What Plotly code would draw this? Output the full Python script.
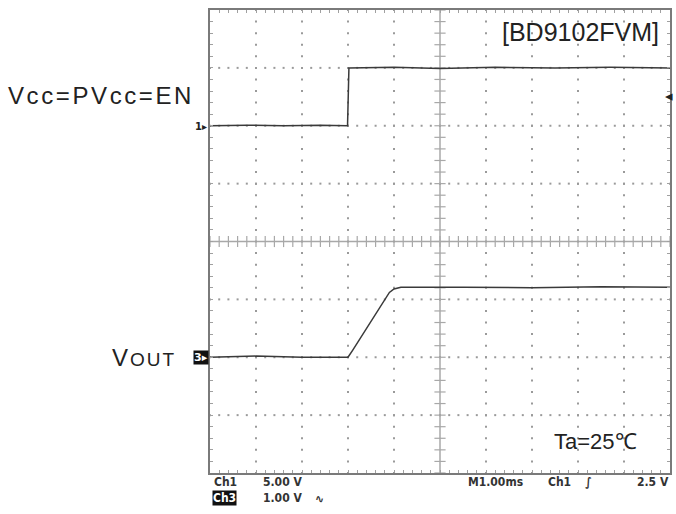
import numpy as np
import plotly.graph_objects as go

# ---------------- data (read from the scope screen) ----------------
# time in ms (1.00 ms/div, 10 divisions on screen)
vcc_t = [0.0, 0.8, 1.6, 2.4, 2.99, 3.0, 3.02, 4.0, 5.0, 6.2, 7.5, 8.7, 10.0]
vcc_v = [0.0, 0.05, 0.0, 0.05, 0.0, 2.5, 5.0, 5.05, 4.95, 5.05, 5.0, 5.05, 5.0]   # Ch1, 5.00 V/div

vout_t = [0.0, 1.0, 2.0, 2.98, 3.0, 3.1, 3.5, 3.9, 4.0, 4.15, 5.5, 7.0, 8.5, 10.0]
vout_v = [0.0, 0.02, 0.0, 0.0, 0.0, 0.12, 0.62, 1.12, 1.18, 1.21, 1.21, 1.2, 1.22, 1.21]  # Ch3, 1.00 V/div

ch1_label = "Vcc=PVcc=EN"
chip_label = "[BD9102FVM]"
temp_label = "Ta=25℃"

W, H = 676, 514
# target plot area in page pixels: x 210..672, y 10..473
L = 210
T = 10
R = W - 672
B = H - 473
PW, PH = W - L - R, H - T - B

def px(x):
    return (x - L) / PW

def py(y):
    return (H - B - y) / PH

grid_col = "#a8a8a8"
trace_col = "#3a3a3a"

fig = go.Figure()

# dotted graticule (decoration)
minor_x = np.round(np.arange(0, 10.001, 0.2), 3)
minor_y = np.round(np.arange(-4, 4.001, 0.2), 3)
gx, gy = [], []
for xm in [1, 2, 3, 4, 6, 7, 8, 9]:
    for ym in minor_y:
        gx.append(xm); gy.append(ym)
for ym in [-3, -2, -1, 1, 2, 3]:
    for xm in minor_x:
        gx.append(xm); gy.append(ym)
fig.add_trace(go.Scatter(x=gx, y=gy, mode="markers", hoverinfo="skip",
                         marker=dict(symbol="square", size=2, color="#9a9a9a"),
                         showlegend=False))

# center crosshair
fig.add_shape(type="line", x0=0, x1=10, y0=0, y1=0, xref="x", yref="y",
              line=dict(color=grid_col, width=1.5), layer="below")
fig.add_shape(type="line", x0=5, x1=5, y0=-4, y1=4, xref="x", yref="y",
              line=dict(color=grid_col, width=1.5), layer="below")
fig.add_trace(go.Scatter(x=list(minor_x), y=[0] * len(minor_x), mode="markers", hoverinfo="skip",
                         marker=dict(symbol="line-ns", size=8, line=dict(color=grid_col, width=1.2)),
                         showlegend=False))
fig.add_trace(go.Scatter(x=[5] * len(minor_y), y=list(minor_y), mode="markers", hoverinfo="skip",
                         marker=dict(symbol="line-ew", size=8, line=dict(color=grid_col, width=1.2)),
                         showlegend=False))

# signal traces
fig.add_trace(go.Scatter(x=vcc_t, y=vcc_v, mode="lines", yaxis="y2",
                         line=dict(color=trace_col, width=1.5), showlegend=False))
fig.add_trace(go.Scatter(x=vout_t, y=vout_v, mode="lines", yaxis="y3",
                         line=dict(color=trace_col, width=1.5), showlegend=False))

ax_common = dict(showgrid=False, zeroline=False, showline=True, mirror="ticks",
                 linecolor="#7a7a7a", linewidth=1.5, ticks="inside", ticklen=3,
                 tickcolor="#a0a0a0", tickwidth=1, showticklabels=False, fixedrange=True)

fig.update_layout(
    width=W, height=H,
    margin=dict(l=L, r=R, t=T, b=B),
    paper_bgcolor="white", plot_bgcolor="white",
    xaxis=dict(range=[0, 10], dtick=0.2, tick0=0, **ax_common),
    yaxis=dict(range=[-4, 4], dtick=0.2, tick0=0, **ax_common),
    yaxis2=dict(range=[-30, 10], overlaying="y", visible=False),
    yaxis3=dict(range=[-2, 6], overlaying="y", visible=False),
)

ann = []
big = dict(family="Liberation Sans, Arial", size=24, color="#222222")
ann.append(dict(text="<span style='letter-spacing:2.6px'>" + ch1_label + "</span>",
                x=px(196), y=py(96), xref="paper", yref="paper",
                xanchor="right", yanchor="middle", showarrow=False, font=big))
ann.append(dict(text="<span style='letter-spacing:2px'>V<span style='font-size:19px'>OUT</span></span>",
                x=px(178), y=py(357),
                xref="paper", yref="paper", xanchor="right", yanchor="middle",
                showarrow=False, font=dict(family="Liberation Sans, Arial", size=24, color="#222222")))
ann.append(dict(text=chip_label, x=px(663), y=py(32), xref="paper", yref="paper",
                xanchor="right", yanchor="middle", showarrow=False,
                font=dict(family="Liberation Sans, Arial", size=25, color="#222222")))
ann.append(dict(text=temp_label, x=px(641), y=py(441), xref="paper", yref="paper",
                xanchor="right", yanchor="middle", showarrow=False,
                font=dict(family="Liberation Sans, Arial", size=22, color="#222222")))
# channel markers
ann.append(dict(text="<b>1</b>▸", x=px(209), y=py(126), xref="paper", yref="paper",
                xanchor="right", yanchor="middle", showarrow=False,
                font=dict(family="DejaVu Sans", size=10, color="#222222")))
ann.append(dict(text="<b>3▸</b>", x=px(209), y=py(357), xref="paper", yref="paper",
                xanchor="right", yanchor="middle", showarrow=False, bgcolor="#111111",
                borderpad=0, font=dict(family="DejaVu Sans", size=11, color="white")))
ann.append(dict(text="<b>◂</b>", x=px(677), y=py(96), xref="paper", yref="paper",
                xanchor="right", yanchor="middle", showarrow=False,
                font=dict(family="DejaVu Sans", size=15, color="#222222")))

small = dict(family="Liberation Sans Narrow, DejaVu Sans Condensed, Liberation Sans", size=12, color="#333333")
def bottom(text, x, y, anchor="left", bg=None, col=None):
    f = dict(small)
    if col:
        f["color"] = col
    d = dict(text=text, x=px(x), y=py(y), xref="paper", yref="paper", xanchor=anchor,
             yanchor="middle", showarrow=False, font=f)
    if bg:
        d["bgcolor"] = bg
        d["borderpad"] = 0
    ann.append(d)

bottom("<b>Ch1</b>", 212, 482)
bottom("<b>5.00 V</b>", 261, 482)
bottom("<b>M1.00ms</b>", 467, 482)
bottom("<b>Ch1</b>", 547, 482)
bottom("<b>∫</b>", 585, 482)
bottom("<b>2.5 V</b>", 673, 482, anchor="right")
bottom("<b>Ch3</b>", 212, 498, bg="#111111", col="white")
bottom("<b>1.00 V</b>", 261, 498)
bottom("<b>∿</b>", 313, 499)

fig.update_layout(annotations=ann)
fig.write_html("out.html", config={"displayModeBar": False},
               post_script="document.body.style.margin='0';document.body.style.overflow='hidden';")
